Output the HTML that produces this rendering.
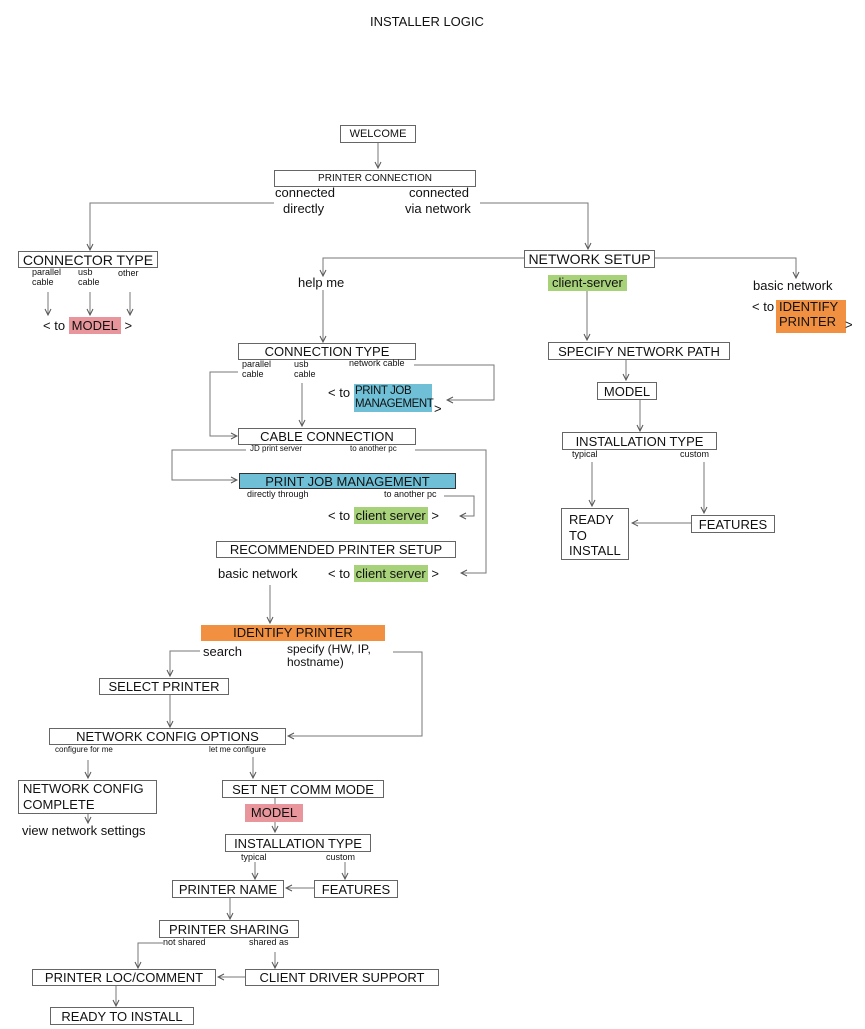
<!DOCTYPE html>
<html><head><meta charset="utf-8">
<style>
body{margin:0;width:865px;height:1029px;background:#fff;position:relative;overflow:hidden;font-family:"Liberation Sans",sans-serif;color:#111}
.b{position:absolute;box-sizing:border-box;border:1px solid #666;background:#fff;display:flex;align-items:center;justify-content:center;font-size:13px;white-space:nowrap;line-height:1}
.t{position:absolute;white-space:nowrap;line-height:1.1}
.s{font-size:9px}
.m{font-size:13px}
.pink{background:#e8969b}
.blue{background:#6fbfd6}
.green{background:#a8d27a}
.orange{background:#f09040}
svg{position:absolute;left:0;top:0}
</style></head><body>
<svg width="865" height="1029" fill="none" stroke="#777" stroke-width="1">
<defs><marker id="a" markerWidth="8" markerHeight="8" refX="7" refY="4" orient="auto" markerUnits="userSpaceOnUse"><path d="M1,1 L7,4 L1,7" stroke="#555" fill="none"/></marker></defs>
<g marker-end="url(#a)">
<path d="M378,142V168"/>
<path d="M274,203H90V250"/>
<path d="M480,203H588V249"/>
<path d="M48,292V315"/><path d="M90,292V315"/><path d="M130,292V315"/>
<path d="M524,258H323V276"/>
<path d="M654,258H796V278"/>
<path d="M323,290V342"/>
<path d="M587,290V340"/>
<path d="M238,372H210V436H237"/>
<path d="M302,383V426"/>
<path d="M414,365H494V400H447"/>
<path d="M246,450H172V480H237"/>
<path d="M415,450H486V573H461"/>
<path d="M444,496H474V516H460"/>
<path d="M270,585V623"/>
<path d="M200,651H170V676"/>
<path d="M170,695V727"/>
<path d="M393,652H422V736H288"/>
<path d="M88,760V778"/><path d="M253,757V778"/>
<path d="M88,813V823"/>
<path d="M275,797V832"/>
<path d="M255,862V879"/><path d="M345,862V879"/>
<path d="M314,888H286"/>
<path d="M230,897V919"/>
<path d="M163,943H138V968"/>
<path d="M275,952V968"/>
<path d="M245,977H218"/>
<path d="M116,985V1006"/>
<path d="M626,359V380"/>
<path d="M640,399V431"/>
<path d="M592,462V506"/>
<path d="M704,462V513"/>
<path d="M691,523H632"/>
</g>
</svg>

<div class="t" style="left:370px;top:15px;font-size:13px">INSTALLER LOGIC</div>

<div class="b" style="left:340px;top:125px;width:76px;height:18px;font-size:11px">WELCOME</div>
<div class="b" style="left:274px;top:170px;width:202px;height:17px;font-size:10px">PRINTER CONNECTION</div>
<div class="t m" style="left:275px;top:186px">connected</div>
<div class="t m" style="left:283px;top:202px">directly</div>
<div class="t m" style="left:409px;top:186px">connected</div>
<div class="t m" style="left:405px;top:202px">via network</div>

<div class="b" style="left:18px;top:251px;width:140px;height:17px;font-size:14px">CONNECTOR TYPE</div>
<div class="t s" style="left:32px;top:268px">parallel<br>cable</div>
<div class="t s" style="left:78px;top:268px">usb<br>cable</div>
<div class="t s" style="left:118px;top:269px">other</div>
<div class="t m" style="left:43px;top:319px">&lt; to <span class="pink" style="padding:1px 3px">MODEL</span> &gt;</div>

<div class="b" style="left:524px;top:250px;width:131px;height:18px;font-size:14px">NETWORK SETUP</div>
<div class="t m" style="left:298px;top:276px">help me</div>
<div class="t m green" style="left:548px;top:275px;padding:1px 4px">client-server</div>
<div class="t m" style="left:753px;top:279px">basic network</div>
<div class="t m" style="left:752px;top:300px">&lt; to</div>
<div class="t m orange" style="left:776px;top:300px;width:67px;padding:0 0 3px 3px;line-height:1.15">IDENTIFY<br>PRINTER</div>
<div class="t m" style="left:845px;top:318px">&gt;</div>

<div class="b" style="left:238px;top:343px;width:178px;height:17px">CONNECTION TYPE</div>
<div class="t s" style="left:242px;top:360px">parallel<br>cable</div>
<div class="t s" style="left:294px;top:360px">usb<br>cable</div>
<div class="t s" style="left:349px;top:359px">network cable</div>
<div class="t m" style="left:328px;top:386px">&lt; to</div>
<div class="t blue" style="left:354px;top:384px;width:77px;padding:1px 0 1px 1px;line-height:1.15;font-size:11.5px;letter-spacing:-0.4px">PRINT JOB<br>MANAGEMENT</div>
<div class="t m" style="left:434px;top:402px">&gt;</div>

<div class="b" style="left:238px;top:428px;width:178px;height:17px">CABLE CONNECTION</div>
<div class="t" style="left:250px;top:445px;font-size:8px">JD print server</div>
<div class="t" style="left:350px;top:445px;font-size:8px">to another pc</div>

<div class="b blue" style="left:239px;top:473px;width:217px;height:16px;border-color:#333">PRINT JOB MANAGEMENT</div>
<div class="t" style="left:247px;top:490px;font-size:9px">directly through</div>
<div class="t" style="left:384px;top:490px;font-size:9px">to another pc</div>
<div class="t m" style="left:328px;top:509px">&lt; to <span class="green" style="padding:1px 2px">client server</span> &gt;</div>

<div class="b" style="left:216px;top:541px;width:240px;height:17px">RECOMMENDED PRINTER SETUP</div>
<div class="t m" style="left:218px;top:567px">basic network</div>
<div class="t m" style="left:328px;top:567px">&lt; to <span class="green" style="padding:1px 2px">client server</span> &gt;</div>

<div class="t m orange" style="left:201px;top:625px;width:184px;height:16px;text-align:center;line-height:16px">IDENTIFY PRINTER</div>
<div class="t m" style="left:203px;top:645px">search</div>
<div class="t" style="left:287px;top:643px;font-size:12px">specify (HW, IP,<br>hostname)</div>

<div class="b" style="left:99px;top:678px;width:130px;height:17px">SELECT PRINTER</div>
<div class="b" style="left:49px;top:728px;width:237px;height:17px">NETWORK CONFIG OPTIONS</div>
<div class="t" style="left:55px;top:746px;font-size:8px">configure for me</div>
<div class="t" style="left:209px;top:746px;font-size:8px">let me configure</div>

<div class="b" style="left:18px;top:780px;width:139px;height:34px;justify-content:flex-start;padding-left:4px;line-height:1.2">NETWORK CONFIG<br>COMPLETE</div>
<div class="t m" style="left:22px;top:824px">view network settings</div>

<div class="b" style="left:222px;top:780px;width:162px;height:18px">SET NET COMM MODE</div>
<div class="t m pink" style="left:245px;top:804px;width:58px;height:18px;text-align:center;line-height:18px">MODEL</div>
<div class="b" style="left:225px;top:834px;width:146px;height:18px">INSTALLATION TYPE</div>
<div class="t s" style="left:241px;top:853px">typical</div>
<div class="t s" style="left:326px;top:853px">custom</div>
<div class="b" style="left:172px;top:880px;width:112px;height:18px">PRINTER NAME</div>
<div class="b" style="left:314px;top:880px;width:84px;height:18px">FEATURES</div>
<div class="b" style="left:159px;top:920px;width:140px;height:18px">PRINTER SHARING</div>
<div class="t s" style="left:163px;top:938px">not shared</div>
<div class="t s" style="left:249px;top:938px">shared as</div>
<div class="b" style="left:32px;top:969px;width:184px;height:17px">PRINTER LOC/COMMENT</div>
<div class="b" style="left:245px;top:969px;width:194px;height:17px">CLIENT DRIVER SUPPORT</div>
<div class="b" style="left:50px;top:1007px;width:144px;height:18px">READY TO INSTALL</div>

<div class="b" style="left:548px;top:342px;width:182px;height:18px">SPECIFY NETWORK PATH</div>
<div class="b" style="left:597px;top:382px;width:60px;height:18px">MODEL</div>
<div class="b" style="left:562px;top:432px;width:155px;height:18px">INSTALLATION TYPE</div>
<div class="t s" style="left:572px;top:450px">typical</div>
<div class="t s" style="left:680px;top:450px">custom</div>
<div class="b" style="left:561px;top:508px;width:68px;height:52px;justify-content:flex-start;align-items:flex-start;padding:3px 0 0 7px;line-height:1.2">READY<br>TO<br>INSTALL</div>
<div class="b" style="left:691px;top:515px;width:84px;height:18px">FEATURES</div>
</body></html>
